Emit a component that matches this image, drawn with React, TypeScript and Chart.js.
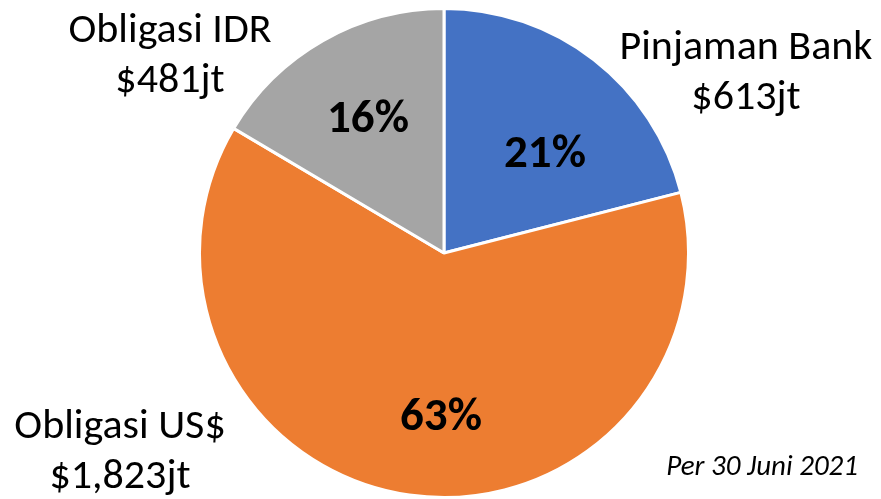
import React, { useEffect, useRef } from "react";
import { Chart, registerables } from "chart.js";

Chart.register(...registerables);

const categories = ["Pinjaman Bank", "Obligasi US$", "Obligasi IDR"];
const values = [613, 1823, 481];
const amountLabels = ["$613jt", "$1,823jt", "$481jt"];
const percentLabels = ["21%", "63%", "16%"];
const colors = ["#4472C4", "#ED7D31", "#A5A5A5"];
const note = "Per 30 Juni 2021";

const FONT = "Carlito, Calibri, Lato, 'Open Sans', sans-serif";

// label placement offsets relative to the pie center (px)
const nameOffsets = [
  { dx: 302, dy: -194 },
  { dx: -324, dy: 185 },
  { dx: -274, dy: -211 },
];
const pctOffsets = [
  { dx: 101, dy: -86 },
  { dx: -3, dy: 177 },
  { dx: -76, dy: -121 },
];

const labelPlugin = {
  id: "sliceLabels",
  afterDatasetsDraw(chart: any) {
    const ctx = chart.ctx;
    const meta = chart.getDatasetMeta(0);
    const arc0 = meta.data[0];
    if (!arc0) return;
    const cx = arc0.x;
    const cy = arc0.y;
    ctx.save();
    ctx.fillStyle = "#000";
    ctx.textAlign = "center";
    ctx.textBaseline = "alphabetic";
    categories.forEach((name, i) => {
      const o = nameOffsets[i];
      ctx.font = `42px ${FONT}`;
      ctx.fillText(name, cx + o.dx, cy + o.dy);
      ctx.fillText(amountLabels[i], cx + o.dx, cy + o.dy + 50);
      const p = pctOffsets[i];
      ctx.font = `bold 47px ${FONT}`;
      ctx.fillText(percentLabels[i], cx + p.dx, cy + p.dy);
    });
    ctx.font = `italic 29px ${FONT}`;
    ctx.textAlign = "right";
    ctx.fillText(note, chart.width - 23, chart.height - 24);
    ctx.restore();
  },
};

export default function App() {
  const ref = useRef<HTMLCanvasElement | null>(null);
  useEffect(() => {
    const canvas = ref.current;
    if (!canvas) return;
    const chart = new Chart(canvas, {
      type: "pie",
      data: {
        labels: categories,
        datasets: [
          {
            data: values,
            backgroundColor: colors,
            borderColor: "#ffffff",
            borderWidth: 3,
          },
        ],
      },
      options: {
        responsive: false,
        animation: false,
        layout: { padding: { top: 7, bottom: 0, left: 100, right: 93 } },
        plugins: {
          legend: { display: false },
          tooltip: { enabled: false },
        },
      },
      plugins: [labelPlugin],
    });
    return () => chart.destroy();
  }, []);
  return (
    <div style={{ position: "fixed", left: 0, top: 0, width: 881, height: 499, background: "#fff" }}>
      <canvas ref={ref} width={881} height={499} style={{ display: "block" }} />
    </div>
  );
}
